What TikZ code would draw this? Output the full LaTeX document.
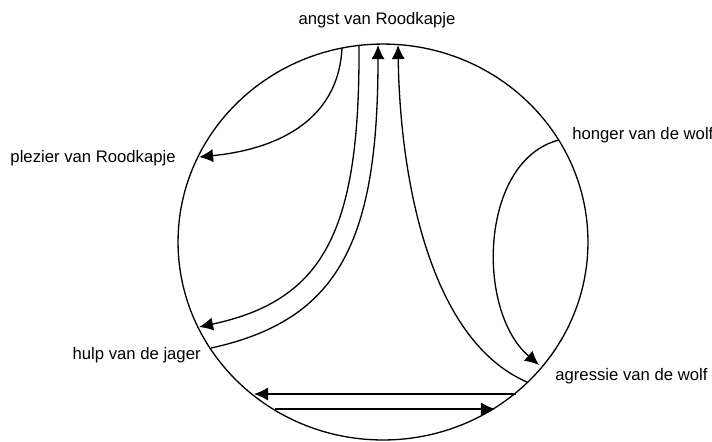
\documentclass[tikz,border=0pt]{standalone}
\usepackage{fontspec}
\setmainfont{Liberation Sans}
\usetikzlibrary{arrows.meta,positioning}

\begin{document}
\begin{tikzpicture}[x=0.02cm, y=-0.02cm,
  lbl/.style={inner sep=0pt, font=\fontsize{9.5}{11}\selectfont},
  link/.style={line width=0.75pt, -{Latex[length=8pt,width=7.5pt]}}]
  \useasboundingbox (0,0) rectangle (712,441);
  \draw[line width=0.75pt] (383,242) ellipse [x radius=4.1cm, y radius=3.96cm];

  % labels round the circle
  \node[lbl, anchor=mid] (angst) at (377,20) {angst van Roodkapje};
  \node[lbl, anchor=mid east] (plezier) at (176,158) {plezier van Roodkapje};
  \node[lbl, anchor=mid west] (honger) at (572,135) {honger van de wolf};
  \node[lbl, anchor=mid east] (hulp) at (201,355) {hulp van de jager};
  \node[lbl, anchor=mid west] (agressie) at (555,376) {agressie van de wolf};

  % points on the circle
  \coordinate (angst1) at (342,48);
  \coordinate (angst2) at (359,45);
  \coordinate (angst3) at (378,45);
  \coordinate (angst4) at (398,45);
  \coordinate (plezier1) at (199,157);
  \coordinate (hulp1) at (199,327);
  \coordinate (hulp2) at (211,348);
  \coordinate (honger1) at (559,140);
  \coordinate (agressie1) at (539,365);
  \coordinate (agressie2) at (527,382);
  \coordinate (bodem1) at (516,394);
  \coordinate (bodem2) at (254,394);
  \coordinate (bodem3) at (275,409);
  \coordinate (bodem4) at (495,409);

  \draw[link] (angst1) .. controls (338,125) and (270,150) .. (plezier1);
  \draw[link] (angst2) .. controls (360,230) and (325,300) .. (hulp1);
  \draw[link] (hulp2) .. controls (340,320) and (378,240) .. (angst3);
  \draw[link] (agressie2) .. controls (430,340) and (400,180) .. (angst4);
  \draw[link] (honger1) .. controls (480,160) and (475,310) .. (agressie1);
  \draw[link] (bodem1) -- (bodem2);
  \draw[link] (bodem3) -- (bodem4);
\end{tikzpicture}
\end{document}
